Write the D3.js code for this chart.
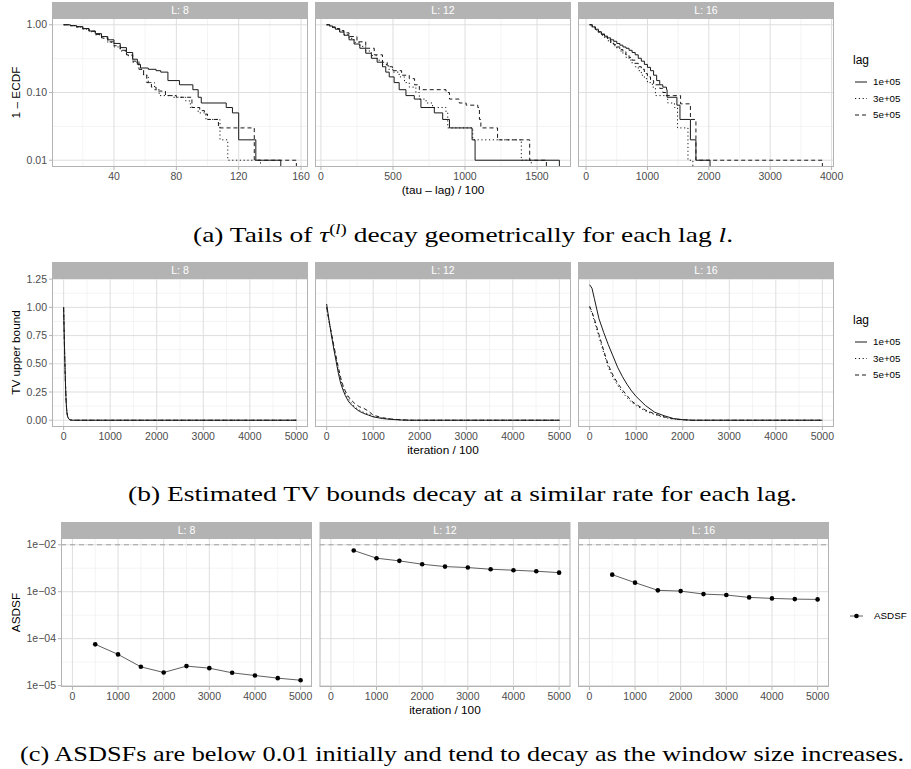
<!DOCTYPE html>
<html>
<head>
<meta charset="utf-8">
<title>Coupling diagnostics</title>
<script src="https://cdn.jsdelivr.net/npm/d3@7"></script>
<style>
body { margin: 0; background: #fff; }
svg text { font-family: "Liberation Sans", Arial, sans-serif; }
text.caption { font-family: "Liberation Serif", "DejaVu Serif", serif; font-size: 22px; fill: #000; }
</style>
</head>
<body>
<svg id="fig" width="911" height="769"></svg>
<script>
// ---- data ----------------------------------------------------------------
var facets = ["L: 8", "L: 12", "L: 16"];
var lagLevels = ["1e+05", "3e+05", "5e+05"];

// (a) 1 - ECDF of (tau - lag)/100, step points [x, 1 - ECDF]
var tailL8Lag1 = [[7.7,1],[12,0.97],[16,0.94],[20,0.88],[24,0.81],[28,0.74],[32,0.67],[36,0.6],[40,0.53],[44,0.46],[48,0.39],[52,0.31],[55,0.26],[57,0.23],[62,0.22],[67,0.21],[70,0.2],[74.6,0.15],[82,0.13],[90.6,0.11],[94,0.085],[96,0.07],[112,0.06],[116,0.05],[120,0.02],[131,0.01],[147,0]];
var tailL8Lag3 = [[7.7,1],[12,0.97],[16,0.92],[20,0.86],[24,0.79],[28,0.71],[32,0.63],[36,0.55],[40,0.47],[44,0.41],[48,0.35],[52,0.28],[56,0.22],[59,0.18],[62,0.14],[66,0.11],[69,0.09],[78,0.085],[86,0.075],[89,0.06],[94,0.05],[99,0.04],[108,0.02],[113,0.01],[134,0]];
var tailL8Lag5 = [[7.7,1],[12,0.97],[16,0.93],[20,0.87],[24,0.8],[28,0.72],[32,0.64],[36,0.56],[40,0.49],[44,0.42],[48,0.36],[52,0.29],[56,0.22],[59,0.18],[61,0.14],[64,0.12],[67,0.105],[73,0.09],[80,0.085],[90,0.06],[95,0.054],[98,0.048],[100,0.04],[107,0.03],[130,0.01],[157,0]];

var tailL12Lag1 = [[39.5,1],[60,0.96],[80,0.91],[100,0.86],[130,0.78],[160,0.7],[195,0.6],[230,0.52],[270,0.45],[311,0.38],[350,0.32],[390,0.28],[427,0.24],[450,0.2],[474,0.17],[508,0.14],[543,0.11],[590,0.09],[648,0.08],[694,0.06],[787,0.05],[845,0.04],[892,0.03],[1049,0.02],[1070,0.01],[1655,0]];
var tailL12Lag3 = [[39.5,1],[60,0.96],[80,0.92],[100,0.87],[130,0.8],[160,0.72],[195,0.63],[230,0.55],[270,0.48],[311,0.41],[350,0.35],[390,0.3],[427,0.26],[470,0.22],[500,0.2],[543,0.17],[580,0.14],[613,0.12],[659,0.1],[683,0.08],[730,0.07],[775,0.06],[868,0.05],[880,0.03],[1054,0.02],[1391,0.01],[1460,0]];
var tailL12Lag5 = [[39.5,1],[60,0.97],[80,0.93],[100,0.88],[130,0.82],[160,0.76],[195,0.67],[250,0.56],[311,0.45],[370,0.36],[427,0.28],[460,0.24],[497,0.21],[560,0.18],[613,0.16],[650,0.13],[683,0.11],[868,0.1],[892,0.08],[960,0.07],[1008,0.065],[1089,0.06],[1100,0.04],[1110,0.03],[1226,0.02],[1449,0.01],[1565,0]];

var tailL16Lag1 = [[58,1],[100,0.93],[150,0.86],[200,0.79],[250,0.73],[300,0.68],[350,0.64],[400,0.6],[450,0.57],[500,0.53],[550,0.5],[600,0.47],[650,0.45],[700,0.42],[750,0.39],[800,0.36],[850,0.32],[900,0.29],[950,0.26],[1000,0.235],[1050,0.21],[1100,0.18],[1150,0.15],[1200,0.13],[1250,0.12],[1310,0.11],[1320,0.085],[1480,0.065],[1530,0.04],[1700,0.02],[1790,0.01],[2020,0]];
var tailL16Lag3 = [[58,1],[100,0.92],[150,0.84],[200,0.76],[250,0.7],[300,0.64],[350,0.58],[400,0.53],[450,0.49],[500,0.45],[550,0.41],[600,0.37],[650,0.33],[700,0.3],[750,0.27],[800,0.24],[850,0.21],[900,0.18],[950,0.16],[1000,0.14],[1080,0.12],[1130,0.09],[1300,0.09],[1330,0.07],[1440,0.06],[1490,0.03],[1640,0.03],[1660,0.01],[1740,0]];
var tailL16Lag5 = [[58,1],[100,0.93],[150,0.85],[200,0.78],[250,0.72],[300,0.66],[350,0.6],[400,0.56],[450,0.51],[500,0.47],[550,0.43],[600,0.4],[650,0.36],[700,0.33],[750,0.3],[800,0.27],[850,0.24],[900,0.22],[950,0.19],[1000,0.17],[1050,0.15],[1100,0.13],[1200,0.115],[1250,0.1],[1300,0.09],[1420,0.09],[1540,0.068],[1700,0.04],[1790,0.01],[3850,0]];

// (b) TV upper bound against iteration/100, points [x, tv]
var tvL8Lag1 = [[0,1.0],[10,0.8],[20,0.62],[30,0.46],[40,0.32],[50,0.2],[60,0.12],[70,0.07],[80,0.045],[90,0.028],[100,0.018],[120,0.008],[140,0.003],[170,0.001],[200,0],[5000,0]];
var tvL8Lag3 = [[0,1.0],[10,0.81],[20,0.63],[30,0.47],[40,0.33],[50,0.21],[60,0.13],[70,0.075],[80,0.05],[90,0.03],[100,0.02],[120,0.009],[140,0.004],[170,0.001],[200,0],[5000,0]];
var tvL8Lag5 = [[0,1.0],[10,0.8],[20,0.61],[30,0.45],[40,0.31],[50,0.2],[60,0.12],[70,0.07],[80,0.044],[90,0.027],[100,0.017],[120,0.008],[140,0.003],[170,0.001],[200,0],[5000,0]];

var tvL12Lag1 = [[0,1.03],[50,0.89],[100,0.76],[150,0.64],[200,0.53],[250,0.42],[300,0.33],[350,0.27],[400,0.22],[450,0.18],[500,0.15],[600,0.11],[700,0.08],[800,0.06],[900,0.045],[1000,0.03],[1200,0.015],[1400,0.007],[1600,0.002],[1800,0],[5000,0]];
var tvL12Lag3 = [[0,1.0],[50,0.88],[100,0.77],[150,0.66],[200,0.55],[250,0.45],[300,0.36],[350,0.29],[400,0.24],[450,0.2],[500,0.17],[600,0.12],[700,0.09],[800,0.07],[900,0.055],[1000,0.035],[1200,0.018],[1400,0.008],[1600,0.003],[1800,0],[5000,0]];
var tvL12Lag5 = [[0,1.0],[50,0.88],[100,0.78],[150,0.67],[200,0.57],[250,0.47],[300,0.38],[350,0.31],[400,0.26],[450,0.22],[500,0.19],[600,0.15],[700,0.12],[800,0.105],[900,0.08],[1000,0.045],[1200,0.022],[1400,0.01],[1600,0.004],[1800,0],[5000,0]];

var tvL16Lag1 = [[0,1.2],[50,1.17],[100,1.08],[200,0.9],[300,0.78],[400,0.67],[500,0.57],[600,0.47],[700,0.39],[800,0.32],[900,0.26],[1000,0.21],[1200,0.13],[1400,0.07],[1600,0.04],[1800,0.015],[2000,0.005],[2200,0],[5000,0]];
var tvL16Lag3 = [[0,1.0],[50,0.95],[100,0.88],[200,0.74],[300,0.6],[400,0.47],[500,0.38],[600,0.31],[700,0.25],[800,0.2],[900,0.16],[1000,0.13],[1200,0.08],[1400,0.05],[1600,0.025],[1800,0.01],[2000,0.003],[2200,0],[5000,0]];
var tvL16Lag5 = [[0,1.01],[50,0.96],[100,0.9],[200,0.76],[300,0.62],[400,0.49],[500,0.4],[600,0.33],[700,0.27],[800,0.22],[900,0.17],[1000,0.14],[1200,0.09],[1400,0.055],[1600,0.03],[1800,0.012],[2000,0.004],[2200,0],[5000,0]];

// (c) ASDSF by window end (iteration/100)
var asdsfIter = [500, 1000, 1500, 2000, 2500, 3000, 3500, 4000, 4500, 5000];
var asdsfL8  = [7.56e-5, 4.62e-5, 2.51e-5, 1.90e-5, 2.60e-5, 2.35e-5, 1.87e-5, 1.64e-5, 1.44e-5, 1.30e-5];
var asdsfL12 = [7.56e-3, 5.18e-3, 4.54e-3, 3.85e-3, 3.43e-3, 3.27e-3, 3.01e-3, 2.87e-3, 2.73e-3, 2.55e-3];
var asdsfL16 = [2.31e-3, 1.56e-3, 1.07e-3, 1.03e-3, 8.9e-4, 8.5e-4, 7.56e-4, 7.2e-4, 6.96e-4, 6.85e-4];
var asdsfThreshold = 0.01;
var asdsfXLimits = [0, 5000];

// tick values
var tailTicksX = [[40, 80, 120, 160], [0, 500, 1000, 1500], [0, 1000, 2000, 3000, 4000]];
var tailTicksY = [0.01, 0.1, 1];
var tvTicksX = [0, 1000, 2000, 3000, 4000, 5000];
var tvTicksY = [0, 0.25, 0.5, 0.75, 1, 1.25];
var asdsfTicksY = [1e-5, 1e-4, 1e-3, 1e-2];

// ---- drawing -------------------------------------------------------------
var svg = d3.select("#fig");
var defs = svg.append("defs");
var gridLayer = svg.append("g");
var dataLayer = svg.append("g");
var frameLayer = svg.append("g");

var BORDER = "#b3b3b3", GRID_MAJOR = "#dedede", GRID_MINOR = "#ededed", TICK_TXT = "#4d4d4d", INK = "#1a1a1a";
var stripH = 16, panelH = 149;
var TICK_FS = 10.5, TITLE_FS = 11.8;
var lagDash = [null, "1.2,2.6", "4,3"];
var clipCount = 0;

function expand(lo, hi) {
  var d = hi - lo;
  return [lo - 0.05 * d, hi + 0.05 * d];
}

function minorBreaks(major, dom, isLog) {
  var t = isLog ? major.map(Math.log10) : major.slice();
  var step = t[1] - t[0];
  var ext = [t[0] - step].concat(t, [t[t.length - 1] + step]);
  var lo = Math.min(dom[0], dom[1]), hi = Math.max(dom[0], dom[1]);
  var out = [];
  for (var i = 0; i < ext.length - 1; i++) {
    var m = (ext[i] + ext[i + 1]) / 2;
    var v = isLog ? Math.pow(10, m) : m;
    if (v > lo && v < hi) out.push(v);
  }
  return out;
}

function facetBoxes(top, left, width, gap) {
  return facets.map(function(f, i) {
    return { x: left + i * (width + gap), y: top, w: width, h: panelH, label: f };
  });
}

function sciLabel(d) {
  var e = Math.round(Math.log10(d));
  return "1e" + (e < 0 ? "\u2212" : "+") + String(Math.abs(e)).padStart(2, "0");
}

// background, grid, strip, border, ticks; returns clipped group for data
function drawPanel(p, x, y, xMajor, yMajor, isLogY, xFmt, yFmt, showY) {
  var xd = x.domain(), yd = y.domain();
  var xIn = xMajor.filter(function(d) { return d >= xd[0] && d <= xd[1]; });
  var yIn = yMajor.filter(function(d) { return d >= yd[0] && d <= yd[1]; });
  var xMinor = minorBreaks(xMajor, xd, false);
  var yMinor = minorBreaks(yMajor, yd, isLogY);
  var g = gridLayer.append("g");

  g.append("rect").attr("x", p.x).attr("y", p.y).attr("width", p.w).attr("height", p.h).attr("fill", "#fff");
  g.selectAll(null).data(xMinor).join("line")
    .attr("x1", x).attr("x2", x).attr("y1", p.y).attr("y2", p.y + p.h)
    .attr("stroke", GRID_MINOR).attr("stroke-width", 0.6);
  g.selectAll(null).data(yMinor).join("line")
    .attr("y1", y).attr("y2", y).attr("x1", p.x).attr("x2", p.x + p.w)
    .attr("stroke", GRID_MINOR).attr("stroke-width", 0.6);
  g.selectAll(null).data(xIn).join("line")
    .attr("x1", x).attr("x2", x).attr("y1", p.y).attr("y2", p.y + p.h)
    .attr("stroke", GRID_MAJOR).attr("stroke-width", 1);
  g.selectAll(null).data(yIn).join("line")
    .attr("y1", y).attr("y2", y).attr("x1", p.x).attr("x2", p.x + p.w)
    .attr("stroke", GRID_MAJOR).attr("stroke-width", 1);

  var f = frameLayer.append("g");
  f.append("rect").attr("x", p.x + 0.5).attr("y", p.y + 0.5).attr("width", p.w - 1).attr("height", p.h - 1)
    .attr("fill", "none").attr("stroke", BORDER).attr("stroke-width", 1);
  f.append("rect").attr("x", p.x).attr("y", p.y - stripH).attr("width", p.w).attr("height", stripH)
    .attr("fill", BORDER);
  f.append("text").attr("x", p.x + p.w / 2).attr("y", p.y - stripH / 2).attr("dy", "0.35em")
    .attr("text-anchor", "middle").attr("font-size", TICK_FS).attr("fill", "#fff").text(p.label);

  f.selectAll(null).data(xIn).join("line")
    .attr("x1", x).attr("x2", x).attr("y1", p.y + p.h).attr("y2", p.y + p.h + 3)
    .attr("stroke", BORDER);
  f.selectAll(null).data(xIn).join("text")
    .attr("x", x).attr("y", p.y + p.h + 12.5).attr("text-anchor", "middle")
    .attr("font-size", TICK_FS).attr("fill", TICK_TXT).text(xFmt);
  if (showY) {
    f.selectAll(null).data(yIn).join("line")
      .attr("y1", y).attr("y2", y).attr("x1", p.x - 3).attr("x2", p.x)
      .attr("stroke", BORDER);
    f.selectAll(null).data(yIn).join("text")
      .attr("x", p.x - 5).attr("y", y).attr("dy", "0.35em").attr("text-anchor", "end")
      .attr("font-size", TICK_FS).attr("fill", TICK_TXT).text(yFmt);
  }

  var id = "clip" + (clipCount++);
  defs.append("clipPath").attr("id", id).append("rect")
    .attr("x", p.x).attr("y", p.y).attr("width", p.w).attr("height", p.h);
  return dataLayer.append("g").attr("clip-path", "url(#" + id + ")");
}

function axisTitles(boxes, xTitle, yTitle) {
  var first = boxes[0], last = boxes[boxes.length - 1];
  svg.append("text").attr("x", (first.x + last.x + last.w) / 2).attr("y", first.y + first.h + 27)
    .attr("text-anchor", "middle").attr("font-size", TITLE_FS).attr("fill", "#000").text(xTitle);
  svg.append("text").attr("transform", "translate(20," + (first.y + first.h / 2) + ") rotate(-90)")
    .attr("text-anchor", "middle").attr("font-size", TITLE_FS).attr("fill", "#000").text(yTitle);
}

function lagLegend(top) {
  var g = svg.append("g");
  g.append("text").attr("x", 853).attr("y", top + 46).attr("font-size", 12).attr("fill", "#000").text("lag");
  lagLevels.forEach(function(lv, i) {
    var cy = top + 64 + i * 16.5;
    g.append("line").attr("x1", 855).attr("x2", 867).attr("y1", cy).attr("y2", cy)
      .attr("stroke", INK).attr("stroke-width", 1).attr("stroke-dasharray", lagDash[i]);
    g.append("text").attr("x", 873).attr("y", cy).attr("dy", "0.35em")
      .attr("font-size", 9.8).attr("fill", "#000").text(lv);
  });
}

// ---- (a) tails -------------------------------------------------------------
var tailSets = [[tailL8Lag1, tailL8Lag3, tailL8Lag5], [tailL12Lag1, tailL12Lag3, tailL12Lag5], [tailL16Lag1, tailL16Lag3, tailL16Lag5]];
var boxesA = facetBoxes(18, 52, 256, 7);
var allTailY = d3.merge(d3.merge(tailSets)).map(function(d) { return d[1]; }).filter(function(v) { return v > 0; });
var tailLogDom = expand(Math.log10(d3.min(allTailY)), Math.log10(d3.max(allTailY)));

boxesA.forEach(function(p, i) {
  var xs = d3.merge(tailSets[i]).map(function(d) { return d[0]; });
  var x = d3.scaleLinear().domain(expand(d3.min(xs), d3.max(xs))).range([p.x, p.x + p.w]);
  var y = d3.scaleLog().domain([Math.pow(10, tailLogDom[0]), Math.pow(10, tailLogDom[1])]).range([p.y + p.h, p.y]);
  var plot = drawPanel(p, x, y, tailTicksX[i], tailTicksY, true, String, d3.format(".2f"), i === 0);
  var line = d3.line().curve(d3.curveStepAfter)
    .x(function(d) { return x(d[0]); })
    .y(function(d) { return d[1] > 0 ? y(d[1]) : p.y + p.h + 2; });
  tailSets[i].forEach(function(series, k) {
    plot.append("path").attr("d", line(series)).attr("fill", "none")
      .attr("stroke", INK).attr("stroke-width", 1).attr("stroke-dasharray", lagDash[k]);
  });
});
axisTitles(boxesA, "(tau \u2013 lag) / 100", "1 \u2013 ECDF");
lagLegend(18);

// ---- (b) TV bounds ---------------------------------------------------------
var tvSets = [[tvL8Lag1, tvL8Lag3, tvL8Lag5], [tvL12Lag1, tvL12Lag3, tvL12Lag5], [tvL16Lag1, tvL16Lag3, tvL16Lag5]];
var boxesB = facetBoxes(278, 52, 256, 7);
var allTv = d3.merge(d3.merge(tvSets));
var tvYDom = expand(d3.min(allTv, function(d) { return d[1]; }), d3.max(allTv, function(d) { return d[1]; }));
var tvXDom = expand(d3.min(allTv, function(d) { return d[0]; }), d3.max(allTv, function(d) { return d[0]; }));

boxesB.forEach(function(p, i) {
  var x = d3.scaleLinear().domain(tvXDom).range([p.x, p.x + p.w]);
  var y = d3.scaleLinear().domain(tvYDom).range([p.y + p.h, p.y]);
  var plot = drawPanel(p, x, y, tvTicksX, tvTicksY, false, String, d3.format(".2f"), i === 0);
  var line = d3.line().x(function(d) { return x(d[0]); }).y(function(d) { return y(d[1]); });
  tvSets[i].forEach(function(series, k) {
    plot.append("path").attr("d", line(series)).attr("fill", "none")
      .attr("stroke", INK).attr("stroke-width", 1).attr("stroke-dasharray", lagDash[k]);
  });
});
axisTitles(boxesB, "iteration / 100", "TV upper bound");
lagLegend(278);

// ---- (c) ASDSF -------------------------------------------------------------
var asdsfSets = [asdsfL8, asdsfL12, asdsfL16];
var boxesC = facetBoxes(538, 61, 251, 7.5);
var allAsdsf = d3.merge(asdsfSets).concat([asdsfThreshold]);
var asdsfLogDom = expand(Math.log10(d3.min(allAsdsf)), Math.log10(d3.max(allAsdsf)));
var asdsfXDom = expand(d3.min(asdsfXLimits.concat(asdsfIter)), d3.max(asdsfXLimits.concat(asdsfIter)));

boxesC.forEach(function(p, i) {
  var x = d3.scaleLinear().domain(asdsfXDom).range([p.x, p.x + p.w]);
  var y = d3.scaleLog().domain([Math.pow(10, asdsfLogDom[0]), Math.pow(10, asdsfLogDom[1])]).range([p.y + p.h, p.y]);
  var plot = drawPanel(p, x, y, tvTicksX, asdsfTicksY, true, String, sciLabel, i === 0);
  plot.append("line").attr("x1", p.x).attr("x2", p.x + p.w).attr("y1", y(asdsfThreshold)).attr("y2", y(asdsfThreshold))
    .attr("stroke", "#a0a0a0").attr("stroke-width", 1).attr("stroke-dasharray", "5,4");
  var pts = asdsfIter.map(function(it, j) { return [it, asdsfSets[i][j]]; });
  var line = d3.line().x(function(d) { return x(d[0]); }).y(function(d) { return y(d[1]); });
  plot.append("path").attr("d", line(pts)).attr("fill", "none").attr("stroke", "#4d4d4d").attr("stroke-width", 0.9);
  plot.selectAll(null).data(pts).join("circle")
    .attr("cx", function(d) { return x(d[0]); }).attr("cy", function(d) { return y(d[1]); })
    .attr("r", 2.3).attr("fill", "#000");
});
axisTitles(boxesC, "iteration / 100", "ASDSF");

var keyC = svg.append("g");
keyC.append("line").attr("x1", 850).attr("x2", 863).attr("y1", 616).attr("y2", 616).attr("stroke", "#4d4d4d").attr("stroke-width", 0.9);
keyC.append("circle").attr("cx", 856.5).attr("cy", 616).attr("r", 2.3).attr("fill", "#000");
keyC.append("text").attr("x", 874).attr("y", 616).attr("dy", "0.35em").attr("font-size", 9.8).attr("fill", "#000").text("ASDSF");

// ---- captions ----------------------------------------------------------------
var capA = svg.append("text").attr("class", "caption").attr("x", 193).attr("y", 242)
  .attr("textLength", 540).attr("lengthAdjust", "spacingAndGlyphs");
capA.append("tspan").text("(a) Tails of ");
capA.append("tspan").attr("font-style", "italic").text("\u03c4");
capA.append("tspan").attr("dy", -8).attr("font-size", 15).text("(");
capA.append("tspan").attr("font-size", 15).attr("font-style", "italic").text("l");
capA.append("tspan").attr("font-size", 15).text(")");
capA.append("tspan").attr("dy", 8).text(" decay geometrically for each lag ");
capA.append("tspan").attr("font-style", "italic").text("l");
capA.append("tspan").text(".");

svg.append("text").attr("class", "caption").attr("x", 128).attr("y", 501)
  .attr("textLength", 669).attr("lengthAdjust", "spacingAndGlyphs")
  .text("(b) Estimated TV bounds decay at a similar rate for each lag.");
svg.append("text").attr("class", "caption").attr("x", 20).attr("y", 761)
  .attr("textLength", 884).attr("lengthAdjust", "spacingAndGlyphs")
  .text("(c) ASDSFs are below 0.01 initially and tend to decay as the window size increases.");
</script>
</body>
</html>
